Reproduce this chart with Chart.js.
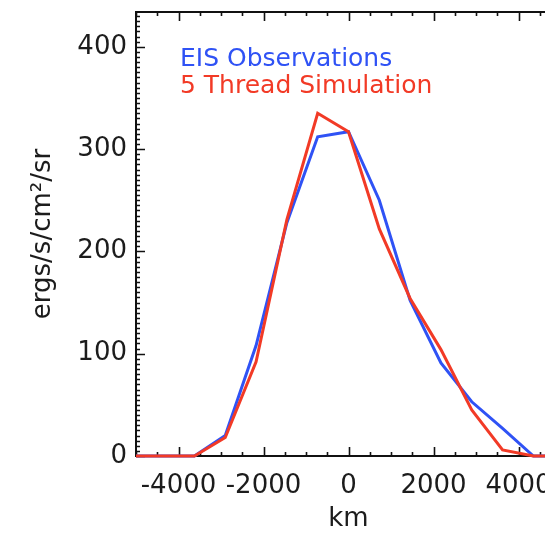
<!DOCTYPE html>
<html><head><meta charset="utf-8">
<script src="https://cdn.jsdelivr.net/npm/chart.js@4"></script>
<style>
html,body{margin:0;padding:0;overflow:hidden;background:#fff;width:545px;height:535px}
#wrap{width:580px;height:535px}
canvas{display:block}
</style></head>
<body><div id="wrap"><canvas id="c" width="580" height="535"></canvas></div>
<script>
const positionsKm = [-5075,-4350,-3625,-2900,-2175,-1450,-725,0,725,1450,2175,2900,3625,4350,5075];
const eisObservations = [0,0,0,20,108,228,312,317,250,152,91,53,27,0,0];
const threadSimulation = [0,0,0,18,92,231,335,317,222,154,104,45,6,0,0];
const xTickValues = [-4000,-2000,0,2000,4000];
const yTickValues = [0,100,200,300,400];
const xMinorStep = 500;
const yMinorStep = 5;
const seriesNames = ['EIS Observations','5 Thread Simulation'];
const seriesColors = ['#2f52f5','#f23a26'];
const xTitle = 'km';
const yTitle = 'ergs/s/cm²/sr';

const FONT = "'DejaVu Sans', sans-serif";
const TEXT = '#1c1c1c';

const framePlugin = {
  id: 'frame',
  beforeDatasetsDraw(chart) {
    const {ctx, chartArea: a, scales} = chart;
    const xs = scales.x, ys = scales.y;
    ctx.save();
    ctx.strokeStyle = '#111';
    ctx.lineWidth = 2;
    ctx.strokeRect(a.left, a.top, a.right - a.left, a.bottom - a.top);
    ctx.lineWidth = 1.6;
    ctx.beginPath();
    for (let v = xs.min; v <= xs.max + 1e-6; v += xMinorStep) {
      const major = xTickValues.includes(v);
      const len = major ? 9 : 4;
      const px = Math.round(xs.getPixelForValue(v)) + 0.5;
      ctx.moveTo(px, a.bottom); ctx.lineTo(px, a.bottom - len);
      ctx.moveTo(px, a.top); ctx.lineTo(px, a.top + len);
    }
    for (let v = 0; v <= ys.max + 1e-6; v += yMinorStep) {
      const major = yTickValues.includes(v);
      const len = major ? 9 : 4;
      const py = Math.round(ys.getPixelForValue(v)) + 0.5;
      ctx.moveTo(a.left, py); ctx.lineTo(a.left + len, py);
      ctx.moveTo(a.right, py); ctx.lineTo(a.right - len, py);
    }
    ctx.stroke();
    ctx.restore();
  },
  afterDraw(chart) {
    const {ctx} = chart;
    ctx.save();
    ctx.font = '25px ' + FONT;
    ctx.textBaseline = 'alphabetic';
    ctx.textAlign = 'left';
    seriesNames.forEach((name, i) => {
      ctx.fillStyle = seriesColors[i];
      ctx.fillText(name, 180, 66 + i * 27);
    });
    ctx.restore();
  }
};

new Chart(document.getElementById('c'), {
  type: 'line',
  data: {
    labels: positionsKm,
    datasets: [
      {label: seriesNames[0], data: positionsKm.map((x, i) => ({x, y: eisObservations[i]})),
       borderColor: seriesColors[0], borderWidth: 3, pointRadius: 0, tension: 0, fill: false,
       borderJoinStyle: 'miter', order: 2, clip: {left: 0, top: 0, right: 0, bottom: 3}},
      {label: seriesNames[1], data: positionsKm.map((x, i) => ({x, y: threadSimulation[i]})),
       borderColor: seriesColors[1], borderWidth: 3, pointRadius: 0, tension: 0, fill: false,
       borderJoinStyle: 'miter', order: 1, clip: {left: 0, top: 0, right: 0, bottom: 3}}
    ]
  },
  options: {
    responsive: false,
    animation: false,
    devicePixelRatio: 1,
    layout: {padding: {left: 0, right: 19, top: 12, bottom: 0}},
    plugins: {legend: {display: false}, tooltip: {enabled: false}},
    scales: {
      x: {
        type: 'linear', min: -5000, max: 5000,
        afterBuildTicks: s => { s.ticks = xTickValues.map(v => ({value: v})); },
        afterFit: s => { s.height = 79; s.paddingLeft = 0; s.paddingRight = 0; },
        grid: {display: false, drawTicks: false},
        border: {display: false},
        ticks: {autoSkip: false, maxRotation: 0, padding: 15, color: TEXT,
                font: {family: FONT, size: 26}, callback: v => String(v)},
        title: {display: true, text: xTitle, color: TEXT, font: {family: FONT, size: 26},
                padding: {top: 0, bottom: 0}}
      },
      y: {
        type: 'linear', min: 0, max: 434,
        afterBuildTicks: s => { s.ticks = yTickValues.map(v => ({value: v})); },
        afterFit: s => { s.width = 136; s.paddingTop = 0; s.paddingBottom = 0; },
        grid: {display: false, drawTicks: false},
        border: {display: false},
        ticks: {padding: 9, color: TEXT, font: {family: FONT, size: 26}, callback: v => String(v)},
        title: {display: true, text: yTitle, color: TEXT, font: {family: FONT, size: 26},
                padding: {top: 28, bottom: 0}}
      }
    }
  },
  plugins: [framePlugin]
});
</script>
</body></html>
